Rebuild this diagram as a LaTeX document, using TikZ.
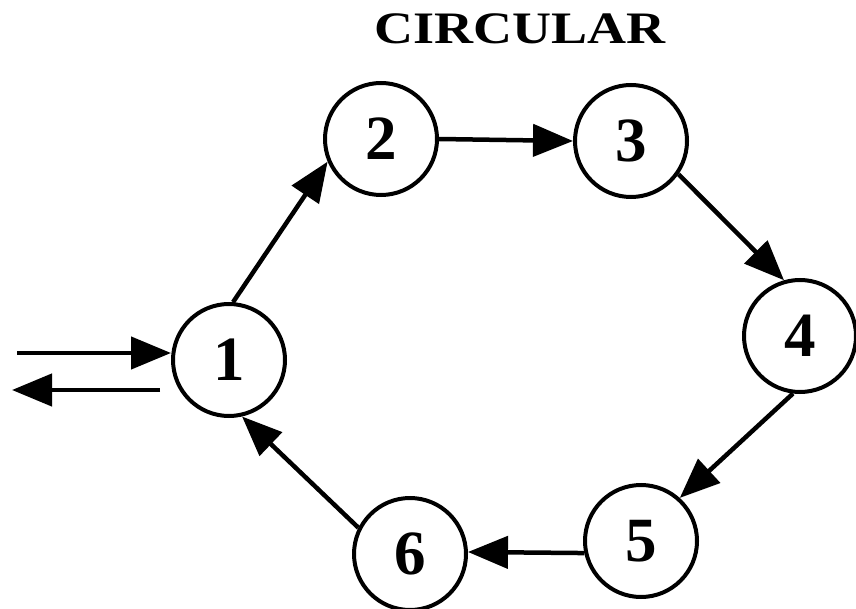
\documentclass[tikz,border=0pt]{standalone}
\usepackage{fontspec}
\setmainfont{Liberation Serif}
\usetikzlibrary{arrows.meta}
\begin{document}
\begin{tikzpicture}[x=1pt,y=-1pt,
  state/.style={circle,draw,line width=4pt,minimum size=112pt,inner sep=0pt,
    font=\fontsize{63}{63}\selectfont\bfseries},
  flow/.style={line width=4.5pt,-{Triangle[length=40pt,width=32pt]}},
  heading/.style={font=\fontsize{45}{45}\selectfont\bfseries}]
\useasboundingbox[fill=white] (0,0) rectangle (856,609);

% title
\node[heading] (title) at (520,29) {\scalebox{1.2}[1]{CIRCULAR}};

% ring of stations
\node[state] (n1) at (229,360) {1};
\node[state] (n2) at (381,139) {2};
\node[state] (n3) at (631,141) {3};
\node[state] (n4) at (800,336) {4};
\node[state] (n5) at (641,541) {5};
\node[state] (n6) at (410,554) {6};

% circulation around the ring
\draw[flow] (n1.86) -- (n2.203);
\draw[flow] (n2.east) -- (n3.west);
\draw[flow] (n3.325) -- (n4.106);
\draw[flow] (n4.263) -- (n5.48);
\draw[flow] (n5.192) -- (n6.2);
\draw[flow] (n6.153) -- (n1.283);

% entry and exit at station 1
\coordinate (inL) at (17,353);
\coordinate (outR) at (160,390);
\coordinate (outL) at (12,390);
\draw[flow] (inL) -- (n1.west |- inL);
\draw[flow] (outR) -- (outL);
\end{tikzpicture}
\end{document}
